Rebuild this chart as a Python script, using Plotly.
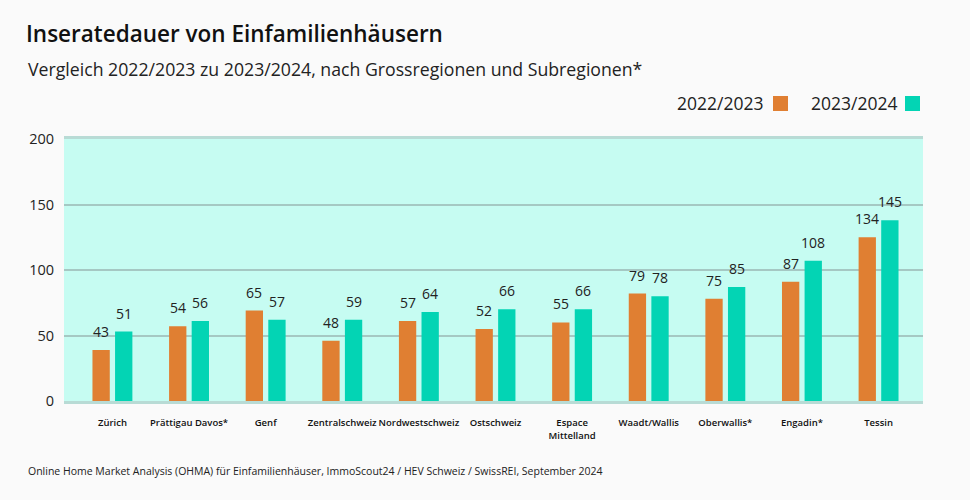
import plotly.graph_objects as go

# ---- data ----
categories = ["Zürich", "Prättigau Davos*", "Genf", "Zentralschweiz", "Nordwestschweiz",
              "Ostschweiz", "Espace<br>Mittelland", "Waadt/Wallis", "Oberwallis*", "Engadin*", "Tessin"]
series_names = ["2022/2023", "2023/2024"]
# printed value labels
labels_2223 = [43, 54, 65, 48, 57, 52, 55, 79, 75, 87, 134]
labels_2324 = [51, 56, 57, 59, 64, 66, 66, 78, 85, 108, 145]
# bar heights as drawn in the reference
bars_2223 = [39, 57, 69, 46, 61, 55, 60, 82, 78, 91, 125]
bars_2324 = [53, 61, 62, 62, 68, 70, 70, 80, 87, 107, 138]
y_ticks = [0, 50, 100, 150, 200]

ORANGE = "#e07f32"
TEAL = "#03d4b4"
FONT = "Open Sans"
W, H = 970, 500
L, R, T, B = 64, 47, 139, 99
pw, ph = W - L - R, H - T - B

def px(xp):
    return (xp - L) / pw

def py(yp):
    return (H - B - yp) / ph

fig = go.Figure()
fig.add_trace(go.Bar(x=categories, y=bars_2223, name=series_names[0], marker_color=ORANGE,
                     marker_line_width=0, showlegend=False))
fig.add_trace(go.Bar(x=categories, y=bars_2324, name=series_names[1], marker_color=TEAL,
                     marker_line_width=0, showlegend=False))

ann = []
half = 0.295 * pw / 11.21 / 2
for c, b, lab in zip(categories, bars_2223, labels_2223):
    ann.append(dict(x=c, y=b, xref="x", yref="y", text=str(lab), showarrow=False,
                    xshift=-half, yshift=7, yanchor="bottom",
                    font=dict(family=FONT, size=14, color="#222")))
for c, b, lab in zip(categories, bars_2324, labels_2324):
    ann.append(dict(x=c, y=b, xref="x", yref="y", text=str(lab), showarrow=False,
                    xshift=half, yshift=7, yanchor="bottom",
                    font=dict(family=FONT, size=14, color="#222")))

# subtitle, footer, legend texts
ann.append(dict(x=px(26), y=py(69), xref="paper", yref="paper", xanchor="left", yanchor="middle",
                text="Vergleich 2022/2023 zu 2023/2024, nach Grossregionen und Subregionen*",
                showarrow=False, font=dict(family=FONT, size=17.7, color="#222")))
ann.append(dict(x=px(26), y=py(471), xref="paper", yref="paper", xanchor="left", yanchor="middle",
                text="Online Home Market Analysis (OHMA) für Einfamilienhäuser, ImmoScout24 / HEV Schweiz / SwissREI, September 2024",
                showarrow=False, font=dict(family=FONT, size=10.5, color="#222")))
ann.append(dict(x=px(765), y=py(103), xref="paper", yref="paper", xanchor="right", yanchor="middle",
                text=series_names[0], showarrow=False, font=dict(family=FONT, size=17.5, color="#222")))
ann.append(dict(x=px(899), y=py(103), xref="paper", yref="paper", xanchor="right", yanchor="middle",
                text=series_names[1], showarrow=False, font=dict(family=FONT, size=17.5, color="#222")))

shapes = [
    dict(type="rect", xref="paper", yref="paper", x0=px(773), x1=px(788), y0=py(111), y1=py(96),
         fillcolor=ORANGE, line_width=0),
    dict(type="rect", xref="paper", yref="paper", x0=px(905), x1=px(920), y0=py(111), y1=py(96),
         fillcolor=TEAL, line_width=0),
]

fig.update_layout(
    width=W, height=H,
    margin=dict(l=L, r=R, t=T, b=B),
    paper_bgcolor="#fafafa",
    plot_bgcolor="#c6fcf2",
    barmode="group", bargap=0.41, bargroupgap=0.234,
    title=dict(text="Inseratedauer von Einfamilienhäusern", x=26 / W, xanchor="left",
               y=1 - 34 / H, yanchor="middle", xref="container", yref="container",
               font=dict(family=FONT, size=22.5, color="#111", weight=600)),
    font=dict(family=FONT, color="#222"),
    annotations=ann,
    shapes=shapes,
    xaxis=dict(type="category", range=[-0.632, 10.58], showgrid=False, showline=True, mirror=True,
               linecolor="#b8dbd5", linewidth=3, ticks="", ticklabelstandoff=11, tickangle=0,
               tickfont=dict(family=FONT, size=9.5, color="#111", weight=600), fixedrange=True),
    yaxis=dict(range=[0, 200], tickvals=y_ticks, showgrid=True, gridcolor="#a5c8c3", gridwidth=1.5,
               zeroline=False, showline=False, ticks="", ticklabelstandoff=9,
               tickfont=dict(family=FONT, size=14.5, color="#222")),
)

fig.write_html("out.html")
